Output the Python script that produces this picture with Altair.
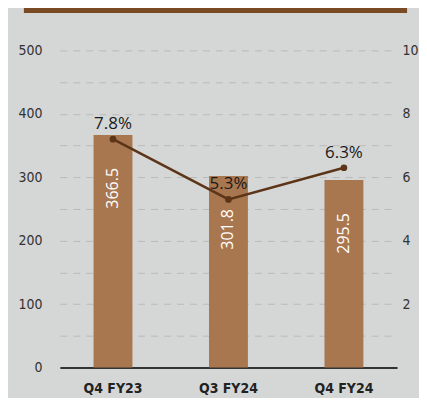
import altair as alt
import pandas as pd

quarters = ["Q4 FY23", "Q3 FY24", "Q4 FY24"]
revenue = [366.5, 301.8, 295.5]
revenue_labels = ["366.5", "301.8", "295.5"]
margin_pct = [7.2, 5.3, 6.3]
margin_labels = ["7.8%", "5.3%", "6.3%"]

df = pd.DataFrame({
    "q": quarters,
    "rev": revenue,
    "rev_label": revenue_labels,
    "pct": margin_pct,
    "pct_label": margin_labels,
})

BG = "#d5d7d6"
BAR = "#a9774f"
LINE = "#5c3518"
AX_FONT = "Liberation Sans Narrow, DejaVu Sans Condensed, sans-serif"
VAL_FONT = "Open Sans, sans-serif"

x = alt.X("q:N", sort=quarters, title=None,
          scale=alt.Scale(paddingInner=0.66, paddingOuter=0.29),
          axis=alt.Axis(labelAngle=0, labelFont=AX_FONT, labelFontSize=14,
                        labelFontWeight="bold", labelColor="#222",
                        labelPadding=14, ticks=False, domain=True,
                        domainColor="#333", domainWidth=2))

y_scale = alt.Scale(domain=[0, 500], nice=False)

y_left = alt.Y("rev:Q", title=None, scale=y_scale,
               axis=alt.Axis(values=list(range(0, 501, 50)),
                             labelExpr="datum.value % 100 == 0 ? datum.label : ''",
                             labelOverlap=False,
                             labelFont=AX_FONT, labelFontSize=14, labelColor="#333",
                             labelPadding=18, ticks=False, domain=False,
                             grid=True, gridColor="#b9bbba", gridDash=[7, 6],
                             gridWidth=1))

bars = alt.Chart(df).mark_bar(color=BAR, width=39).encode(x=x, y=y_left)

bar_text = alt.Chart(df).mark_text(
    angle=270, align="right", baseline="middle", dx=-33,
    color="white", font=VAL_FONT, fontSize=16
).encode(x=x, y=y_left, text="rev_label:N")

left = alt.layer(bars, bar_text)

y_right = alt.Y("pct:Q", title=None,
                scale=alt.Scale(domain=[0, 10], nice=False),
                axis=alt.Axis(orient="right", values=[2, 4, 6, 8, 10],
                              labelFont=AX_FONT, labelFontSize=14, labelColor="#333",
                              labelPadding=5, ticks=False, domain=False, grid=False))

line = alt.Chart(df).mark_line(color=LINE, strokeWidth=2.5).encode(x=x, y=y_right)
pts = alt.Chart(df).mark_point(color=LINE, filled=True, size=45, opacity=1).encode(x=x, y=y_right)
pct_text = alt.Chart(df).mark_text(
    baseline="bottom", dy=-6, color="#1a1a1a", font=VAL_FONT, fontSize=17
).encode(x=x, y=y_right, text="pct_label:N")

right = alt.layer(line, pts, pct_text)

top_bar = alt.Chart(df).mark_rule(color="#7a4a25", strokeWidth=5).encode(
    x=alt.value(-36), x2=alt.value(348), y=alt.value(-40)
)

chart = alt.layer(left, right, top_bar).resolve_scale(y="independent").properties(
    width=338, height=318,
    autosize=alt.AutoSizeParams(type="none"),
    padding={"left": 52, "top": 42, "right": 22, "bottom": 30},
    background=BG,
).configure_view(stroke=None)

chart.save("out.html", embed_options={"renderer": "svg", "actions": False})
